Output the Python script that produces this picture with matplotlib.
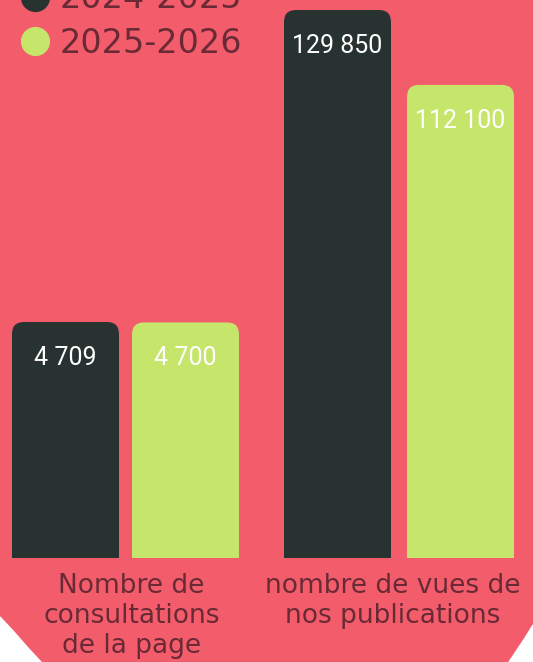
import matplotlib
matplotlib.use("Agg")
import matplotlib.pyplot as plt
from matplotlib.patches import FancyBboxPatch, Rectangle, Polygon
from matplotlib.lines import Line2D

# ---- data ----
seasons = ["2024-2025", "2025-2026"]
categories = ["Nombre de\nconsultations\nde la page", "nombre de vues de\nnos publications"]
consultations = [4709, 4700]
vues = [129850, 112100]
value_labels_consult = ["4 709", "4 700"]
value_labels_vues = ["129 850", "112 100"]

PINK = "#F25C6B"
DARK = "#283331"
GREEN = "#C5E56B"
TEXT = "#692A35"
colors = [DARK, GREEN]

W, H = 533, 662
fig = plt.figure(figsize=(W / 100, H / 100), dpi=100, facecolor=PINK)

def fx(px):
    return px / W

def fy(py):
    return 1 - py / H

# white corners of the background shape
fig.patches.append(Polygon([(fx(0), fy(617)), (fx(14), fy(632)), (fx(28), fy(648)),
                            (fx(41), fy(662)), (fx(0), fy(662))],
                           closed=True, transform=fig.transFigure, color="white", zorder=0))
fig.patches.append(Polygon([(fx(533), fy(625)), (fx(525), fy(638)), (fx(517), fy(650)),
                            (fx(509), fy(662)), (fx(533), fy(662))],
                           closed=True, transform=fig.transFigure, color="white", zorder=0))

bottom_px = 558
ax_h_px = 558

ax1 = fig.add_axes([fx(0), fy(bottom_px), fx(266), ax_h_px / H])
ax2 = fig.add_axes([fx(266), fy(bottom_px), fx(267), ax_h_px / H])

# x scales: bar centres / spacing in pixels
ax1.set_xlim((0 - 65.5) / 120, (266 - 65.5) / 120)
ax2.set_xlim((266 - 337.5) / 123, (533 - 337.5) / 123)
ax1.set_ylim(0, 4709 * ax_h_px / 236)
ax2.set_ylim(0, 129850 * ax_h_px / 548)

def draw_group(ax, vals, labels, width, cat, dx):
    bars = ax.bar(range(len(vals)), vals, width=width, color=colors)
    p0 = ax.transData.transform((0, 0))
    p1 = ax.transData.transform((1, 1))
    ppx, ppy = p1[0] - p0[0], p1[1] - p0[1]
    r = 12 / ppx
    for rect, c in zip(bars.patches, colors):
        x0, y0 = rect.get_x(), rect.get_y()
        w, h = rect.get_width(), rect.get_height()
        rect.set_visible(False)
        ax.add_patch(FancyBboxPatch((x0, y0), w, h,
                                    boxstyle=f"round,pad=0,rounding_size={r}",
                                    mutation_aspect=ppx / ppy, fc=c, ec="none"))
        ax.add_patch(Rectangle((x0, y0), w, h / 2, fc=c, ec="none"))
    for i, (v, lab) in enumerate(zip(vals, labels)):
        ax.annotate(lab, xy=(i, v), xytext=(0, -36), textcoords="offset pixels",
                    ha="center", va="center", color="white",
                    fontsize=18, family=["Roboto", "DejaVu Sans"])
    ax.annotate(cat, xy=(0.5, 0), xycoords=("data", "axes fraction"),
                xytext=(dx, -15), textcoords="offset pixels",
                ha="center", va="top", color=TEXT, fontsize=19,
                linespacing=1.2, family=["DejaVu Sans"])
    ax.axis("off")

draw_group(ax1, consultations, value_labels_consult, 107 / 120, categories[0], 6)
draw_group(ax2, vues, value_labels_vues, 107 / 123, categories[1], -6)

handles = [Line2D([], [], marker="o", linestyle="", color=c, markersize=20) for c in colors]
fig.legend(handles, seasons, loc="lower left",
           bbox_to_anchor=(fx(18.5), fy(60)), frameon=False,
           handlelength=1.0, handletextpad=0.22,
           labelspacing=0.35, borderpad=0, borderaxespad=0,
           labelcolor=TEXT, prop={"family": "DejaVu Sans", "size": 24})

fig.savefig("out.png", dpi=100, facecolor=PINK)
